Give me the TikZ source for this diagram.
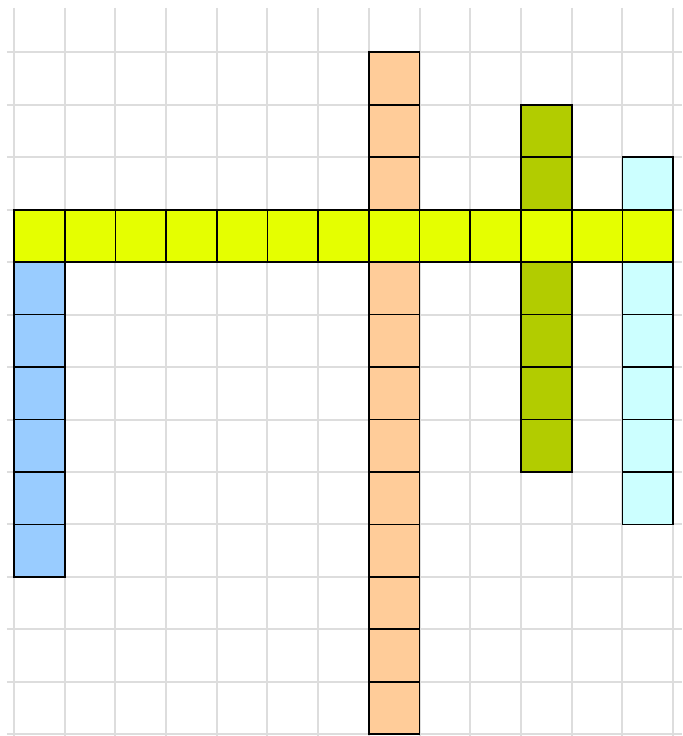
\documentclass[tikz,border=0pt]{standalone}
\usetikzlibrary{calc}
\definecolor{gridgray}{HTML}{DDDDDD}
\definecolor{wordyellow}{HTML}{E5FF00}
\definecolor{wordblue}{HTML}{99CCFF}
\definecolor{wordorange}{HTML}{FFCC99}
\definecolor{wordgreen}{HTML}{B2CC00}
\definecolor{wordcyan}{HTML}{CCFFFF}

\begin{document}
\begin{tikzpicture}[
    x=1.014cm, y=-1.0492cm,
    gridline/.style={draw=gridgray, line width=0.04cm},
    cell/.style={draw=black, line width=0.035cm}
]
\useasboundingbox (-0.276,-0.997) rectangle (13.176,13.033);
% background grid
\foreach \i in {0,...,13} \draw[gridline] (\i,-0.845) -- (\i,13.033);
\foreach \j in {0,...,13} \draw[gridline] (-0.138,\j) -- (13.176,\j);
% vertical words
\foreach \j in {4,...,9} \draw[cell, fill=wordblue] (0,\j) rectangle ++(1,1);
\foreach \j in {0,...,12} \draw[cell, fill=wordorange] (7,\j) rectangle ++(1,1);
\foreach \j in {1,...,7} \draw[cell, fill=wordgreen] (10,\j) rectangle ++(1,1);
\foreach \j in {2,...,8} \draw[cell, fill=wordcyan] (12,\j) rectangle ++(1,1);
% horizontal word
\foreach \i in {0,...,12} \draw[cell, fill=wordyellow] (\i,3) rectangle ++(1,1);
\end{tikzpicture}
\end{document}
